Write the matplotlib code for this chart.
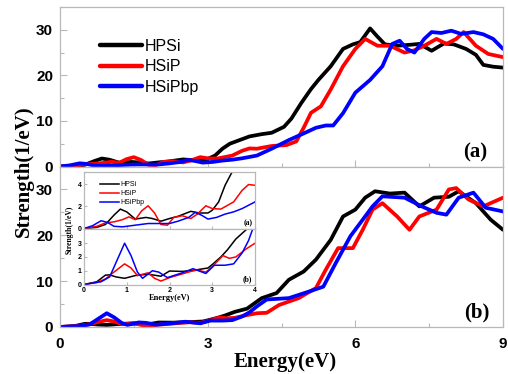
import matplotlib
matplotlib.use('Agg')
import matplotlib.pyplot as plt
from matplotlib.ticker import MultipleLocator

# ---------------- data (panel a) ----------------
E_black_a = [0, 0.3, 0.5, 0.7, 0.85, 1.0, 1.2, 1.45, 1.6, 1.8, 2.0, 2.2, 2.5, 2.7, 2.9, 3.0, 3.15, 3.3,
             3.45, 3.6, 3.85, 4.1, 4.3, 4.55, 4.7, 4.9, 5.1, 5.25, 5.5, 5.75, 5.95, 6.1, 6.3, 6.45, 6.6,
             6.85, 7.1, 7.3, 7.55, 7.8, 8.0, 8.25, 8.45, 8.6, 8.8, 9.0]
S_black_a = [0, 0.1, 0.36, 1.2, 1.75, 1.5, 0.85, 1.0, 0.9, 0.66, 0.9, 1.1, 1.55, 1.4, 1.4, 1.65, 2.4, 3.9,
             5.0, 5.6, 6.6, 7.1, 7.4, 8.7, 10.5, 13.9, 17.0, 19.0, 22.0, 25.8, 26.8, 27.3, 30.3, 28.5, 26.8,
             26.5, 26.7, 26.9, 25.4, 27.0, 26.8, 25.8, 24.5, 22.3, 21.9, 21.7]

E_red_a = [0, 0.3, 0.5, 0.7, 0.9, 1.05, 1.2, 1.35, 1.5, 1.65, 1.8, 1.95, 2.1, 2.3, 2.5, 2.65, 2.85, 3.0,
           3.2, 3.5, 3.7, 3.85, 4.0, 4.3, 4.6, 4.8, 4.95, 5.1, 5.3, 5.5, 5.75, 6.0, 6.2, 6.45, 6.7, 7.0,
           7.2, 7.4, 7.65, 7.85, 8.05, 8.2, 8.45, 8.7, 9.0]
S_red_a = [0, 0.2, 0.5, 0.6, 0.8, 1.05, 0.8, 1.6, 2.05, 1.4, 0.36, 0.3, 1.0, 1.15, 0.9, 1.3, 2.05, 1.8,
           1.75, 2.4, 3.45, 3.97, 3.9, 4.5, 4.7, 5.5, 8.5, 11.8, 13.2, 16.9, 22.0, 25.8, 28.0, 26.5, 26.5, 25.0,
           25.5, 26.5, 28.0, 26.9, 28.0, 29.5, 26.5, 24.7, 24.0]

E_blue_a = [0, 0.2, 0.4, 0.55, 0.7, 0.9, 1.2, 1.5, 1.8, 2.0, 2.2, 2.45, 2.6, 2.75, 2.9, 3.1, 3.3, 3.5,
            3.7, 3.85, 4.0, 4.3, 4.65, 5.0, 5.2, 5.4, 5.55, 5.75, 6.0, 6.3, 6.55, 6.75, 6.9, 7.05, 7.2,
            7.4, 7.55, 7.75, 7.95, 8.15, 8.4, 8.6, 8.8, 9.0]
S_blue_a = [0, 0.25, 0.7, 0.55, 0.2, 0.15, 0.3, 0.45, 0.45, 0.45, 0.66, 1.0, 1.45, 1.2, 0.85, 1.0, 1.3, 1.5,
            1.8, 2.1, 2.4, 3.9, 5.8, 7.5, 8.5, 9.0, 9.0, 11.7, 16.2, 19.0, 22.0, 26.9, 27.6, 25.8, 25.0,
            28.0, 29.5, 29.3, 29.8, 29.1, 29.5, 29.0, 28.0, 25.8]

# ---------------- data (panel b) ----------------
E_black_b = [0, 0.3, 0.5, 0.6, 0.75, 0.95, 1.2, 1.5, 1.8, 2.0, 2.3, 2.6, 2.9, 3.0, 3.2, 3.35, 3.55, 3.8,
             4.1, 4.4, 4.65, 4.95, 5.2, 5.5, 5.75, 6.0, 6.2, 6.4, 6.7, 7.0, 7.3, 7.6, 7.9, 8.1, 8.45, 8.75, 9.0]
S_black_b = [0, 0.2, 0.68, 0.7, 0.55, 0.45, 0.65, 0.75, 0.6, 0.98, 0.95, 1.05, 1.2, 1.45, 2.0, 2.5, 3.3, 4.0,
             6.3, 7.4, 10.3, 12.1, 14.7, 19.0, 24.1, 25.6, 28.2, 29.6, 29.1, 29.3, 26.3, 28.2, 28.4, 29.6, 27.0,
             23.4, 21.2]

E_red_b = [0, 0.3, 0.5, 0.7, 0.95, 1.1, 1.25, 1.5, 1.65, 1.8, 2.0, 2.2, 2.5, 2.65, 2.85, 3.0, 3.25, 3.4,
           3.55, 3.8, 4.0, 4.2, 4.45, 4.85, 5.2, 5.4, 5.65, 5.95, 6.15, 6.35, 6.55, 6.85, 7.1, 7.3, 7.65,
           7.9, 8.05, 8.3, 8.6, 9.0]
S_red_b = [0, 0.15, 0.4, 0.9, 1.5, 1.2, 0.65, 0.85, 0.45, 0.25, 0.5, 0.68, 0.95, 1.05, 0.9, 1.3, 2.1, 1.9,
           2.0, 2.6, 3.0, 3.1, 4.8, 6.3, 8.5, 12.5, 17.2, 17.2, 21.2, 25.6, 27.0, 24.1, 21.2, 24.1, 25.6,
           30.0, 30.3, 27.8, 26.3, 28.2]

E_blue_b = [0, 0.4, 0.6, 0.75, 0.95, 1.1, 1.25, 1.37, 1.6, 1.75, 1.95, 2.1, 2.3, 2.55, 2.85, 3.05, 3.3,
            3.5, 3.7, 3.85, 4.0, 4.2, 4.65, 5.05, 5.35, 5.6, 5.9, 6.15, 6.35, 6.55, 7.0, 7.35, 7.65, 7.85,
            8.1, 8.4, 8.65, 9.0]
S_blue_b = [0, 0.2, 0.55, 1.6, 3.0, 2.1, 0.9, 0.45, 1.0, 0.9, 0.5, 0.65, 0.85, 1.15, 0.8, 1.4, 1.4,
            1.5, 2.3, 3.2, 4.5, 6.0, 6.3, 7.7, 8.8, 13.9, 19.8, 23.4, 26.3, 28.5, 28.2, 26.3, 24.9, 24.5,
            28.2, 29.3, 26.0, 25.2]

labels = ['HPSi', 'HSiP', 'HSiPbp']
colors = ['#000000', '#ff0000', '#0000ff']
main_xticks = [0, 3, 6, 9]
main_yticks = [0, 10, 20, 30]

W, H = 508, 374
fig = plt.figure(figsize=(W / 100, H / 100), dpi=100)


def rect(x0, y0, x1, y1):
    return [x0 / W, 1 - y1 / H, (x1 - x0) / W, (y1 - y0) / H]


GRAY = '#b8b8b8'
SANS = 'Liberation Sans'
SERIF = 'Liberation Serif'


def style(ax, labelsize, pad, major_len, minor_len):
    for s in ax.spines.values():
        s.set_color(GRAY)
        s.set_linewidth(0.9)
    ax.tick_params(which='both', direction='in', color=GRAY, width=0.8,
                   labelsize=labelsize, pad=pad)
    ax.tick_params(which='major', length=major_len)
    ax.tick_params(which='minor', length=minor_len)
    for t in ax.get_xticklabels() + ax.get_yticklabels():
        t.set_fontweight('bold')
        t.set_fontfamily(SANS)


axa = fig.add_axes(rect(60, 7, 503, 166.5))
axb = fig.add_axes(rect(60, 166.5, 503, 327))

series_a = [(E_black_a, S_black_a), (E_red_a, S_red_a), (E_blue_a, S_blue_a)]
series_b = [(E_black_b, S_black_b), (E_red_b, S_red_b), (E_blue_b, S_blue_b)]

for ax, series in ((axa, series_a), (axb, series_b)):
    for (e, s), c, lab in zip(series, colors, labels):
        ax.plot(e, s, color=c, lw=2.7, label=lab, solid_capstyle='round', solid_joinstyle='round')
    ax.set_xlim(0, 9)
    ax.set_ylim(0, 35)
    ax.set_xticks(main_xticks)
    ax.set_yticks(main_yticks)
    ax.xaxis.set_minor_locator(MultipleLocator(1.5))
    ax.yaxis.set_minor_locator(MultipleLocator(5))
    style(ax, 11, 5, 5, 3)
axa.set_xticklabels([])
for t in axb.get_xticklabels():
    t.set_fontweight('bold')
axb.tick_params(axis='x', pad=7)

axa.text(0.965, 0.09, '(a)', transform=axa.transAxes, ha='right', va='center',
         fontsize=15, fontweight='bold', family=SERIF)
axb.text(0.97, 0.09, '(b)', transform=axb.transAxes, ha='right', va='center',
         fontsize=15, fontweight='bold', family=SERIF)

leg = axa.legend(loc='upper left', bbox_to_anchor=(92 / W, 1 - 31 / H),
                 bbox_transform=fig.transFigure, frameon=False, borderpad=0,
                 handlelength=2.6, handletextpad=0.2, labelspacing=0.33,
                 prop={'family': SANS, 'size': 11.5})
for ln in leg.get_lines():
    ln.set_linewidth(3.2)

fig.text(285 / W, 1 - 362 / H, 'Energy(eV)', ha='center', va='center', fontsize=15,
         fontweight='bold', family=SERIF)
fig.text(24 / W, 1 - 171 / H, 'Strength(1/eV)', ha='center', va='center', rotation=90,
         fontsize=15, fontweight='bold', family=SERIF)

# ---------------- inset ----------------
ia = fig.add_axes(rect(84, 172, 255, 228.5), zorder=5)
ib = fig.add_axes(rect(84, 228.5, 255, 284.5), zorder=5)
for ax, series, yt, ylim in ((ia, series_a, [0, 2, 4], (0, 5.1)), (ib, series_b, [0, 1, 2, 3], (0, 4.07))):
    ax.set_facecolor('white')
    for (e, s), c, lab in zip(series, colors, labels):
        ax.plot(e, s, color=c, lw=1.1, label=lab)
    ax.set_xlim(0, 4)
    ax.set_ylim(*ylim)
    ax.set_xticks([0, 1, 2, 3, 4])
    ax.set_yticks(yt)
    style(ax, 5, 1.5, 2, 1)
ia.set_xticklabels([])
ia.text(0.985, 0.1, '(a)', transform=ia.transAxes, ha='right', va='center',
        fontsize=5.5, fontweight='bold', family=SERIF)
ib.text(0.985, 0.1, '(b)', transform=ib.transAxes, ha='right', va='center',
        fontsize=5.5, fontweight='bold', family=SERIF)
ileg = ia.legend(loc='upper left', bbox_to_anchor=(97 / W, 1 - 178 / H),
                 bbox_transform=fig.transFigure, frameon=False, borderpad=0,
                 handlelength=2.6, handletextpad=0.2, labelspacing=0.25,
                 prop={'family': SANS, 'size': 5})
fig.text(170 / W, 1 - 298 / H, 'Energy(eV)', ha='center', va='center', fontsize=6,
         fontweight='bold', family=SERIF)
fig.text(70 / W, 1 - 230 / H, 'Strength(1/eV)', ha='center', va='center', rotation=90,
         fontsize=5.5, fontweight='bold', family=SERIF)

fig.savefig('out.png', dpi=100)
